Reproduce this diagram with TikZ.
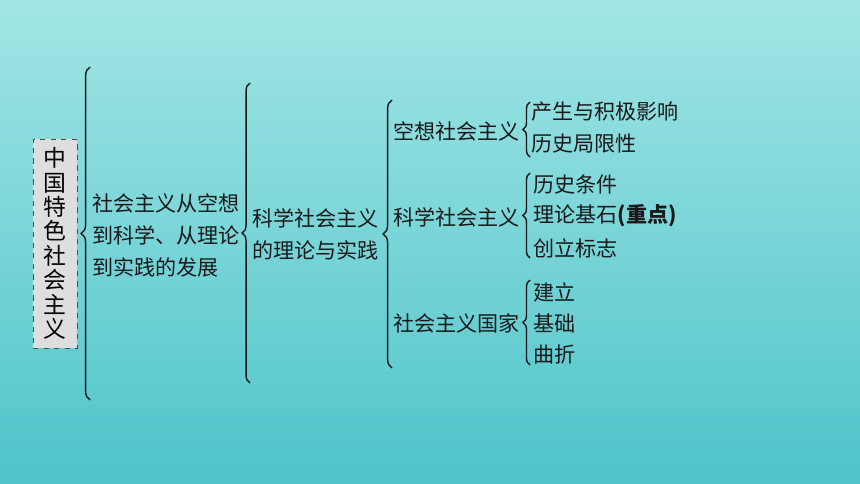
\documentclass[tikz,border=0pt]{standalone}
\usepackage{fontspec}
\setmainfont{Noto Sans CJK SC}
\usetikzlibrary{decorations.pathreplacing}
\begin{document}
\begin{tikzpicture}[x=0.02cm,y=-0.02cm,
  item/.style={anchor=west, inner sep=0pt, align=left, text=black!90,
    font=\fontsize{12}{18.2}\selectfont},
  bracket/.style={draw=black!90, line width=0.8pt, decorate, decoration={brace, amplitude=#1}},
  bracket/.default=5pt]
\shade[top color={rgb,255:red,162;green,229;blue,229}, bottom color={rgb,255:red,78;green,196;blue,202}] (0,0) rectangle (860,484);
\useasboundingbox (0,0) rectangle (860,484);

\node[draw=black!70, dashed, fill=black!13, inner sep=0pt, minimum width=0.88cm, minimum height=4.18cm, align=center, font=\fontsize{13}{13.9}\selectfont] (root) at (55,243.5) {中\\国\\特\\色\\社\\会\\主\\义};

\node[item] (dev) at (92,235) {社会主义从空想\\到科学、从理论\\到实践的发展};
\node[item] (sci) at (252,234) {科学社会主义\\的理论与实践};

\node[item] (utop) at (393,131) {空想社会主义};
\node[item] (scs) at (393,217) {科学社会主义};
\node[item] (state) at (393,323) {社会主义国家};

\node[item] (u1) at (531,112) {产生与积极影响};
\node[item] (u2) at (531,143) {历史局限性};
\node[item] (s1) at (533,184) {历史条件};
\node[item] (s2) at (533,216) {理论基石\textbf{(重点)}};
\node[item] (s3) at (533,248) {创立标志};
\node[item] (g1) at (533,292) {建立};
\node[item] (g2) at (533,323) {基础};
\node[item] (g3) at (533,354) {曲折};

% brace ends
\coordinate (b1top) at (90,67);   \coordinate (b1bot) at (90,400);
\coordinate (b2top) at (250,83);  \coordinate (b2bot) at (250,383);
\coordinate (b3top) at (392,100); \coordinate (b3bot) at (392,368);
\coordinate (batop) at (530,102); \coordinate (babot) at (530,157);
\coordinate (bbtop) at (530,173); \coordinate (bbbot) at (530,258);
\coordinate (bctop) at (530,280); \coordinate (bcbot) at (530,365);

\path[bracket] (b1bot) -- (b1top);
\path[bracket=4.5pt] (b2bot) -- (b2top);
\path[bracket] (b3bot) -- (b3top);
\path[bracket=4pt] (babot) -- (batop);
\path[bracket=4pt] (bbbot) -- (bbtop);
\path[bracket=4pt] (bcbot) -- (bctop);
\end{tikzpicture}
\end{document}
